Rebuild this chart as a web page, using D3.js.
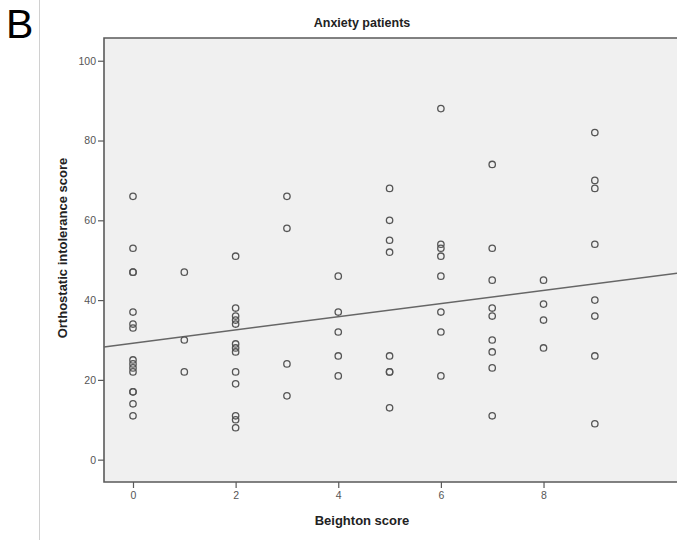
<!DOCTYPE html>
<html>
<head>
<meta charset="utf-8">
<script src="https://cdn.jsdelivr.net/npm/d3@7"></script>
<style>
  html, body { margin: 0; padding: 0; background: #fff; }
  svg { display: block; }
</style>
</head>
<body>
<svg id="chart" width="677" height="540"></svg>
<script>
// Beighton score (0–9) and the orthostatic intolerance scores recorded at each score
const beightonScores = [0, 1, 2, 3, 4, 5, 6, 7, 8, 9];
const intoleranceByScore = [
  [66, 53, 47, 47, 37, 34, 33, 25, 24, 23, 22, 17, 17, 14, 11],
  [47, 30, 22],
  [51, 38, 36, 35, 34, 29, 28, 27, 22, 19, 11, 10, 8],
  [66, 58, 24, 16],
  [46, 37, 32, 26, 21],
  [68, 60, 55, 52, 26, 22, 22, 13],
  [88, 54, 53, 51, 46, 37, 32, 21],
  [74, 53, 45, 38, 36, 30, 27, 23, 11],
  [45, 39, 35, 28],
  [82, 70, 68, 54, 40, 36, 26, 9]
];
// Linear fit line: intercept and slope
const fitIntercept = 29.2;
const fitSlope = 1.655;

const xTicks = [0, 2, 4, 6, 8];
const yTicks = [0, 20, 40, 60, 80, 100];

const points = [];
beightonScores.forEach((b, i) => {
  intoleranceByScore[i].forEach(v => points.push({ x: b, y: v }));
});

const svg = d3.select("#chart");
const plot = { left: 104, top: 38, right: 679, bottom: 482 };

const x = d3.scaleLinear().domain([-0.565, 10.64]).range([plot.left, plot.right]);
const y = d3.scaleLinear().domain([-5.6, 105.7]).range([plot.bottom, plot.top]);

// Panel letter and separator
svg.append("text")
  .attr("x", 6).attr("y", 38)
  .attr("font-family", "'Liberation Sans', Arial, sans-serif")
  .attr("font-size", 41)
  .attr("fill", "#000")
  .text("B");

svg.append("line")
  .attr("x1", 39.5).attr("x2", 39.5)
  .attr("y1", 0).attr("y2", 540)
  .attr("stroke", "#d0d0d0").attr("stroke-width", 1);

// Plot background
svg.append("rect")
  .attr("x", plot.left).attr("y", plot.top)
  .attr("width", plot.right - plot.left).attr("height", plot.bottom - plot.top)
  .attr("fill", "#f0f0f0");

// Frame (top, left, bottom)
const frame = svg.append("g").attr("stroke", "#5a5a5a").attr("stroke-width", 1.6).attr("fill", "none");
frame.append("path")
  .attr("d", `M${plot.right},${plot.top}H${plot.left}V${plot.bottom}H${plot.right}`);

// Axes
const fontFamily = "'Liberation Sans', Arial, sans-serif";

const yAxis = d3.axisLeft(y).tickValues(yTicks).tickSize(6).tickPadding(2).tickFormat(d3.format("d"));
const gy = svg.append("g").attr("transform", `translate(${plot.left},0)`).call(yAxis);
gy.select(".domain").remove();
gy.selectAll(".tick line").attr("stroke", "#5a5a5a").attr("stroke-width", 1.2);
gy.selectAll(".tick text").attr("font-family", fontFamily).attr("font-size", 10.5).attr("fill", "#555");

const xAxis = d3.axisBottom(x).tickValues(xTicks).tickSize(6).tickPadding(4).tickFormat(d3.format("d"));
const gx = svg.append("g").attr("transform", `translate(0,${plot.bottom})`).call(xAxis);
gx.select(".domain").remove();
gx.selectAll(".tick line").attr("stroke", "#5a5a5a").attr("stroke-width", 1.2);
gx.selectAll(".tick text").attr("font-family", fontFamily).attr("font-size", 10.5).attr("fill", "#555");

// Fit line across the full x range
const [x0, x1] = x.domain();
svg.append("line")
  .attr("x1", x(x0)).attr("y1", y(fitIntercept + fitSlope * x0))
  .attr("x2", x(x1)).attr("y2", y(fitIntercept + fitSlope * x1))
  .attr("stroke", "#666").attr("stroke-width", 1.5);

// Data points as open circles
svg.append("g").selectAll("circle")
  .data(points)
  .join("circle")
  .attr("cx", d => x(d.x))
  .attr("cy", d => y(d.y))
  .attr("r", 3.2)
  .attr("fill", "none")
  .attr("stroke", "#555")
  .attr("stroke-width", 1.3);

// Titles
svg.append("text")
  .attr("x", 362).attr("y", 27)
  .attr("text-anchor", "middle")
  .attr("font-family", fontFamily).attr("font-weight", "bold").attr("font-size", 12.5)
  .attr("fill", "#222")
  .text("Anxiety patients");

svg.append("text")
  .attr("x", 362).attr("y", 525)
  .attr("text-anchor", "middle")
  .attr("font-family", fontFamily).attr("font-weight", "bold").attr("font-size", 13)
  .attr("fill", "#222")
  .text("Beighton score");

svg.append("text")
  .attr("transform", "translate(67,248) rotate(-90)")
  .attr("text-anchor", "middle")
  .attr("font-family", fontFamily).attr("font-weight", "bold").attr("font-size", 13)
  .attr("fill", "#222")
  .text("Orthostatic intolerance score");
</script>
</body>
</html>
